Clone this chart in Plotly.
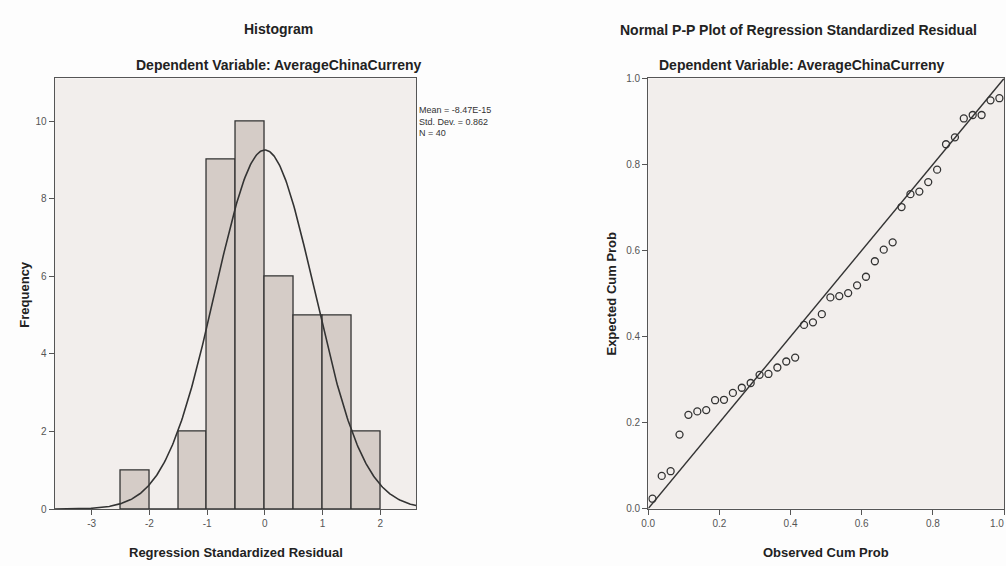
import numpy as np
import plotly.graph_objects as go

# ---- data ----
bin_centers = [-2.25, -1.75, -1.25, -0.75, -0.25, 0.25, 0.75, 1.25, 1.75]
bin_counts = [1, 0, 2, 9, 10, 6, 5, 5, 2]
bin_width = 0.5
resid_mean = -8.47e-15
resid_sd = 0.862
n_obs = 40

observed_cum = [0.012, 0.038, 0.063, 0.088, 0.113, 0.138, 0.163, 0.188, 0.213, 0.238,
                0.263, 0.288, 0.313, 0.338, 0.363, 0.388, 0.413, 0.438, 0.463, 0.488,
                0.512, 0.537, 0.562, 0.587, 0.612, 0.637, 0.662, 0.687, 0.712, 0.737,
                0.762, 0.787, 0.812, 0.837, 0.862, 0.887, 0.912, 0.937, 0.962, 0.987]
expected_cum = [0.023, 0.076, 0.087, 0.172, 0.218, 0.226, 0.229, 0.252, 0.253, 0.269,
                0.281, 0.292, 0.311, 0.313, 0.328, 0.342, 0.351, 0.427, 0.433, 0.452,
                0.491, 0.494, 0.501, 0.519, 0.539, 0.575, 0.602, 0.619, 0.701, 0.731,
                0.737, 0.759, 0.788, 0.847, 0.863, 0.907, 0.915, 0.915, 0.949, 0.954]

hist_xticks = [-3, -2, -1, 0, 1, 2]
hist_yticks = [0, 2, 4, 6, 8, 10]
pp_ticks = [0.0, 0.2, 0.4, 0.6, 0.8, 1.0]

# ---- styles ----
FONT = "Liberation Sans, Arial, sans-serif"
PLOT_BG = "#f2eeec"
BAR_FILL = "#d5ccc7"
LINE = "#333333"
AXIS = "#555555"
TICKFONT = dict(family=FONT, size=10, color="#555555")

fig = go.Figure()

# histogram bars
fig.add_trace(go.Bar(
    x=bin_centers, y=bin_counts, width=bin_width,
    marker=dict(color=BAR_FILL, line=dict(color=LINE, width=1.3)),
    xaxis="x", yaxis="y", showlegend=False, hoverinfo="skip"))

# normal curve
xc = np.linspace(-3.64, 2.62, 400)
yc = n_obs * bin_width / (resid_sd * np.sqrt(2 * np.pi)) * np.exp(-0.5 * ((xc - resid_mean) / resid_sd) ** 2)
fig.add_trace(go.Scatter(x=xc, y=yc, mode="lines", line=dict(color=LINE, width=1.6),
                         xaxis="x", yaxis="y", showlegend=False, hoverinfo="skip"))

# P-P diagonal
fig.add_trace(go.Scatter(x=[0, 1], y=[0, 1], mode="lines", line=dict(color=LINE, width=1.4),
                         xaxis="x2", yaxis="y2", showlegend=False, hoverinfo="skip"))
# P-P points
fig.add_trace(go.Scatter(x=observed_cum, y=expected_cum, mode="markers",
                         marker=dict(symbol="circle-open", size=7, color=LINE, line=dict(width=1.3)),
                         xaxis="x2", yaxis="y2", showlegend=False, hoverinfo="skip"))

W, H = 1006, 566
ax_common = dict(showline=True, mirror=True, linecolor=AXIS, linewidth=1.2,
                 showgrid=False, zeroline=False, ticks="outside", ticklen=5,
                 tickcolor=AXIS, tickfont=TICKFONT)

fig.update_layout(
    width=W, height=H,
    margin=dict(l=0, r=0, t=0, b=0),
    paper_bgcolor="#fdfdfd",
    plot_bgcolor=PLOT_BG,
    bargap=0,
    font=dict(family=FONT, color="#222222"),
    xaxis=dict(domain=[48 / W, 412 / W], range=[-3.64, 2.62], tickvals=hist_xticks,
               ticktext=[str(v) for v in hist_xticks], anchor="y", **ax_common),
    yaxis=dict(domain=[1 - 514 / H, 1 - 74 / H], range=[0, 11.1], tickvals=hist_yticks,
               anchor="x", **ax_common),
    xaxis2=dict(domain=[645.7 / W, 1004 / W], range=[0, 1], tickvals=pp_ticks,
                tickformat=".1f", anchor="y2", **ax_common),
    yaxis2=dict(domain=[1 - 513.5 / H, 1 - 74 / H], range=[0, 1], tickvals=pp_ticks,
                tickformat=".1f", anchor="x2", **ax_common),
)

def txt(x, y, s, size, bold=True, angle=0, xanchor="center", color="#222222"):
    fig.add_annotation(x=x / W, y=1 - y / H, xref="paper", yref="paper", text=("<b>%s</b>" % s) if bold else s,
                       showarrow=False, textangle=angle, xanchor=xanchor, yanchor="middle",
                       font=dict(family=FONT, size=size, color=color))

# titles
txt(273, 24, "Histogram", 14)
txt(273, 60, "Dependent Variable: AverageChinaCurreny", 14)
txt(797, 25, "Normal P-P Plot of Regression Standardized Residual", 14)
txt(800, 60, "Dependent Variable: AverageChinaCurreny", 14)
# axis titles
txt(231, 558, "Regression Standardized Residual", 13)
txt(825, 558, "Observed Cum Prob", 13)
txt(18, 294, "Frequency", 13, angle=-90)
txt(609, 294, "Expected Cum Prob", 13, angle=-90)
# last x tick label of the P-P plot, kept inside the page edge
fig.add_annotation(x=1.0, y=0, xref="x2", yref="y2", text="1.0", showarrow=False,
                   xanchor="right", yanchor="top", yshift=-7, xshift=2,
                   font=TICKFONT)
# stats box
fig.add_annotation(x=413 / W, y=1 - 99 / H, xref="paper", yref="paper",
                   text="Mean = -8.47E-15<br>Std. Dev. = 0.862<br>N = 40",
                   showarrow=False, xanchor="left", yanchor="top", align="left",
                   font=dict(family=FONT, size=9, color="#333333"))

fig.write_html("out.html")
